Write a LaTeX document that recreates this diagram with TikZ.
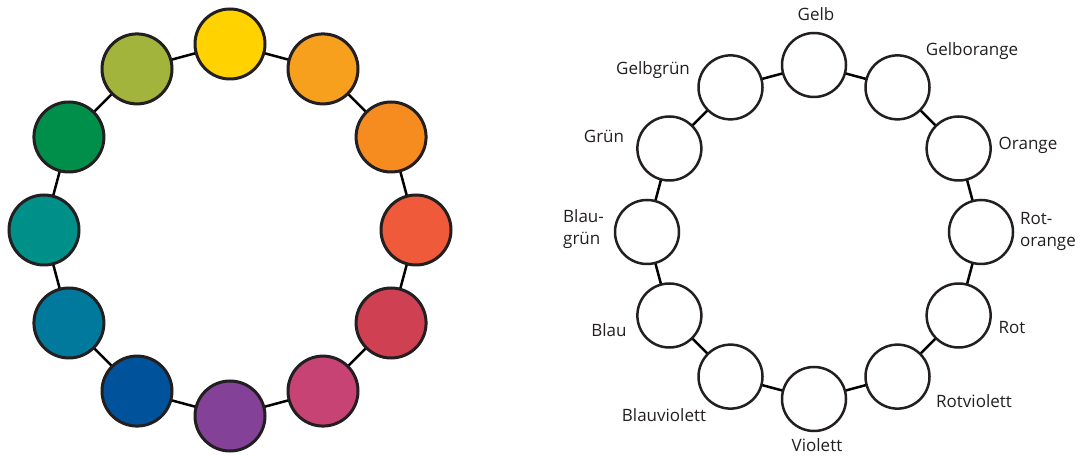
\documentclass[tikz,border=0pt]{standalone}
\usepackage{fontspec}
\setmainfont{Open Sans}
\definecolor{c1}{HTML}{FFD200}
\definecolor{c2}{HTML}{F7A01E}
\definecolor{c3}{HTML}{F68B1F}
\definecolor{c4}{HTML}{EE5A3A}
\definecolor{c5}{HTML}{CF4052}
\definecolor{c6}{HTML}{C64374}
\definecolor{c7}{HTML}{844198}
\definecolor{c8}{HTML}{00529B}
\definecolor{c9}{HTML}{00799D}
\definecolor{c10}{HTML}{00908A}
\definecolor{c11}{HTML}{008F4A}
\definecolor{c12}{HTML}{A2B43B}
\definecolor{ink}{HTML}{231F20}
\tikzset{
  colcircle/.style={circle, draw=ink, line width=3pt, minimum size=70pt, inner sep=0pt},
  whitecircle/.style={circle, draw=ink, fill=white, line width=2.5pt, minimum size=64pt, inner sep=0pt},
  link/.style={draw=black, line width=2.5pt},
  lbl/.style={font=\fontsize{17}{22}\selectfont, text=ink, inner sep=0pt, text height=12pt, text depth=0pt},
  lbl2/.style={font=\fontsize{17}{22}\selectfont, text=ink, inner sep=0pt, align=left, anchor=west}
}
\begin{document}
\begin{tikzpicture}[x=1pt,y=1pt]
\useasboundingbox (0,0) rectangle (1081,455);
% left ring
\foreach \k in {1,...,12}{
  \pgfmathsetmacro{\ang}{90-30*(\k-1)}
  \path (230,225) ++(\ang:186) coordinate (pL\k);
}
\foreach \k/\n in {1/2,2/3,3/4,4/5,5/6,6/7,7/8,8/9,9/10,10/11,11/12,12/1}{
  \draw[link] (pL\k) -- (pL\n);
}
\foreach \k in {1,...,12}{
  \node[colcircle, fill=c\k] (L\k) at (pL\k) {};
}
% right ring
\foreach \k in {1,...,12}{
  \pgfmathsetmacro{\ang}{90-30*(\k-1)}
  \path (814,223) ++(\ang:167) coordinate (pR\k);
}
\foreach \k/\n in {1/2,2/3,3/4,4/5,5/6,6/7,7/8,8/9,9/10,10/11,11/12,12/1}{
  \draw[link] (pR\k) -- (pR\n);
}
\foreach \k in {1,...,12}{
  \node[whitecircle] (R\k) at (pR\k) {};
}
% labels
\node[lbl] (t1) at (816,440) {Gelb};
\node[lbl] (t2) at (972,405) {Gelborange};
\node[lbl] (t3) at (1028,311) {Orange};
\node[lbl2] (t4) at (1020,224) {Rot-\\orange};
\node[lbl] (t5) at (1012,127) {Rot};
\node[lbl] (t6) at (974,54) {Rotviolett};
\node[lbl] (t7) at (817,10) {Violett};
\node[lbl] (t8) at (664,40) {Blauviolett};
\node[lbl] (t9) at (609,124) {Blau};
\node[lbl2] (t10) at (563,226) {Blau-\\grün};
\node[lbl] (t11) at (604,318) {Grün};
\node[lbl] (t12) at (653,386) {Gelbgrün};
\end{tikzpicture}
\end{document}
